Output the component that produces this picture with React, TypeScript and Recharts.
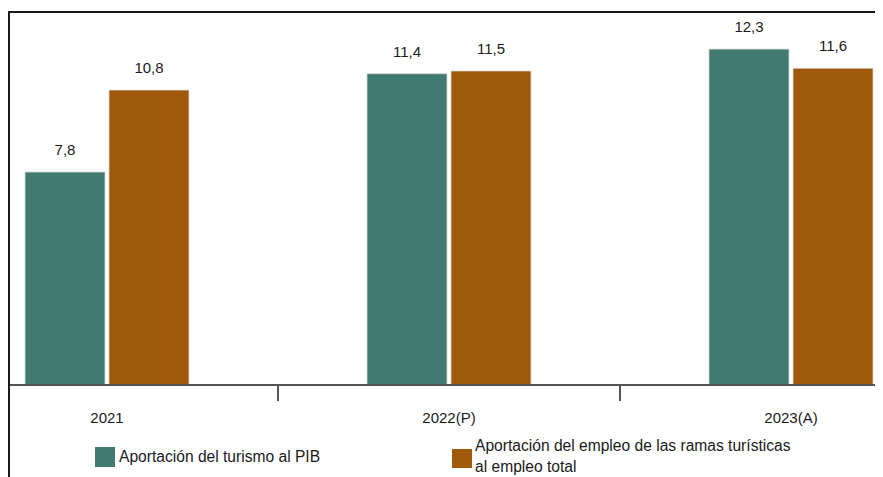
import React from 'react';
import { BarChart, Bar, XAxis, YAxis, LabelList, Legend } from 'recharts';

const categories = ['2021', '2022(P)', '2023(A)'];
const pibShare = [7.8, 11.4, 12.3];
const employmentShare = [10.8, 11.5, 11.6];
const seriesNames = [
  'Aportación del turismo al PIB',
  'Aportación del empleo de las ramas turísticas al empleo total',
];

const data = categories.map((year, i) => ({
  year,
  pib: pibShare[i],
  empleo: employmentShare[i],
}));

const TEAL = '#417a70';
const BROWN = '#a0580a';
const FONT = '"Liberation Sans", Arial, sans-serif';

// the original is a crop of a wider figure, so the plot runs past the left edge
const CHART_W = 1026;
const CHART_H = 469;
const BAND = CHART_W / categories.length;

const formatValue = (v: any) => String(v).replace('.', ',');

const YearTick = (props: any) => {
  const { x, y, payload, index } = props;
  const axisY = y - 27; // tickSize + tickMargin
  return (
    <g>
      <text x={x} y={y} dy="0.71em" textAnchor="middle" fill="#1a1a1a" fontSize={15} fontFamily={FONT}>
        {payload.value}
      </text>
      {index < categories.length - 1 && (
        <line x1={x + BAND / 2} x2={x + BAND / 2} y1={axisY} y2={axisY + 16} stroke="#555" strokeWidth={2} />
      )}
    </g>
  );
};

const renderLegend = () => (
  <div style={{ position: 'relative', height: 42, fontFamily: FONT, fontSize: 15.6, lineHeight: '21px', color: '#1a1a1a' }}>
    <div style={{ position: 'absolute', left: 159, top: 0, display: 'flex' }}>
      <span style={{ width: 20, height: 20, background: TEAL, marginTop: 12, marginRight: 4, flexShrink: 0 }} />
      <span style={{ marginTop: 11 }}>{seriesNames[0]}</span>
    </div>
    <div style={{ position: 'absolute', left: 516, top: 0, display: 'flex' }}>
      <span style={{ width: 20, height: 19, background: BROWN, marginTop: 14, marginRight: 3, flexShrink: 0 }} />
      <span style={{ display: 'block', width: 322, flexShrink: 0 }}>{seriesNames[1]}</span>
    </div>
  </div>
);

export default function App() {
  return (
    <div style={{ position: 'relative', width: 875, height: 469, overflow: 'hidden', fontFamily: FONT }}>
      <div style={{ position: 'absolute', left: -72, top: 0 }}>
        <BarChart
          width={CHART_W}
          height={CHART_H}
          data={data}
          margin={{ top: 22, right: 0, bottom: 0, left: 0 }}
          barCategoryGap={89}
          barGap={4}
        >
          <XAxis
            dataKey="year"
            height={50}
            axisLine={{ stroke: '#555', strokeWidth: 2 }}
            tickLine={false}
            tickSize={15}
            tickMargin={12}
            tick={<YearTick />}
            interval={0}
          />
          <YAxis hide domain={[0, 13]} />
          <Legend
            verticalAlign="bottom"
            content={renderLegend}
            wrapperStyle={{ left: 0, bottom: 0, width: CHART_W }}
          />
          <Bar dataKey="pib" name={seriesNames[0]} fill={TEAL} stroke="#d8d8d8" strokeWidth={0.8} isAnimationActive={false}>
            <LabelList dataKey="pib" position="top" offset={17} formatter={formatValue} fill="#1a1a1a" fontSize={15} fontFamily={FONT} />
          </Bar>
          <Bar dataKey="empleo" name={seriesNames[1]} fill={BROWN} stroke="#d8d8d8" strokeWidth={0.8} isAnimationActive={false}>
            <LabelList dataKey="empleo" position="top" offset={17} formatter={formatValue} fill="#1a1a1a" fontSize={15} fontFamily={FONT} />
          </Bar>
        </BarChart>
      </div>
      <div style={{ position: 'absolute', left: 0, top: 3, width: 875, height: 2, background: '#1a1a1a' }} />
      <div style={{ position: 'absolute', left: 0, top: 3, width: 2, height: 466, background: '#1a1a1a' }} />
    </div>
  );
}
